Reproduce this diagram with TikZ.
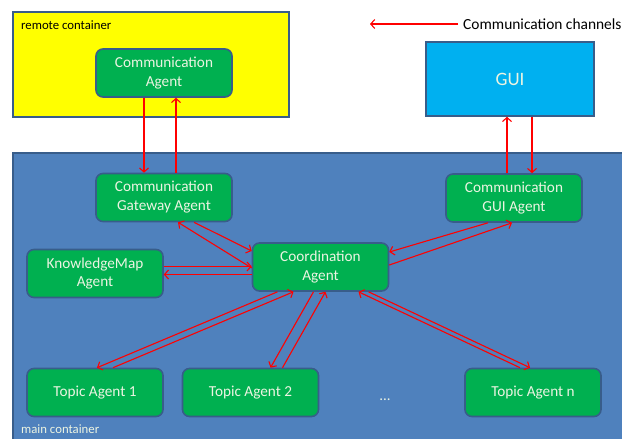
\documentclass[tikz,border=0pt]{standalone}
\usepackage{fontspec}
\setmainfont{Carlito}
\usetikzlibrary{arrows.meta}

\definecolor{agentgreen}{HTML}{00B050}
\definecolor{rimblue}{HTML}{385D8A}
\definecolor{maincont}{HTML}{4F81BD}
\definecolor{remotecont}{HTML}{FFFF00}
\definecolor{guicyan}{HTML}{00B0F0}
\definecolor{agenttext}{RGB}{236,244,226}

\begin{document}
\begin{tikzpicture}[x=1bp,y=-1bp,
  agent/.style={draw=rimblue,line width=1.6bp,rounded corners=7bp,fill=agentgreen,
    text=agenttext,align=center,minimum width=136bp,minimum height=48bp,inner sep=1bp,
    font=\fontsize{15.3}{19}\selectfont},
  chan/.style={draw=red,line width=1.1bp,-{Straight Barb[length=4bp,width=9bp]}},
  contlabel/.style={anchor=west,inner sep=0pt,font=\fontsize{12.8}{14}\selectfont}]
\useasboundingbox (0,0) rectangle (622,439);
% containers
\draw[rimblue,line width=1.6bp,fill=remotecont] (13,12) rectangle (289,117);
\draw[rimblue,line width=1.6bp,fill=maincont] (13,153) rectangle (630,445);
\node[contlabel] (remlbl) at (21,25) {remote container};
\node[contlabel,text=agenttext] (mainlbl) at (21,429) {main container};
% legend
\node[anchor=west,inner sep=0pt,font=\fontsize{15.5}{19}\selectfont] (legend) at (463,24) {Communication channels};
\coordinate (legtip) at (370,24);
% agents
\node[agent] (comm) at (164,73) {Communication\\Agent};
\node[agent] (gate) at (164,197.5) {Communication\\Gateway Agent};
\node[agent] (km) at (95,273.5) {KnowledgeMap\\Agent};
\node[agent] (coord) at (320.5,267) {Coordination\\Agent};
\node[agent] (cgui) at (514,198) {Communication\\GUI Agent};
\node[agent] (t1) at (95,392.5) {Topic Agent 1};
\node[agent] (t2) at (250.5,392.5) {Topic Agent 2};
\node[agent] (tn) at (533,392.5) {Topic Agent n};
\node[text=agenttext,font=\fontsize{15}{19}\selectfont] (dots) at (385,400) {...};
\node[draw=rimblue,line width=1.6bp,fill=guicyan,text=agenttext,minimum width=168bp,
  minimum height=74bp,font=\fontsize{19}{23}\selectfont] (gui) at (510,79) {GUI};
% channels
\draw[chan] ([xshift=-5bp]legend.west) -- (legtip);
\draw[chan] ([xshift=-20bp]comm.south) -- ([xshift=-20bp]gate.north);
\draw[chan] ([xshift=12bp]gate.north) -- ([xshift=12bp]comm.south);
\draw[chan] ([xshift=-3bp]gui.south |- cgui.north) -- ([xshift=-3bp]gui.south);
\draw[chan] ([xshift=22bp]gui.south) -- ([xshift=22bp]gui.south |- cgui.north);
\draw[chan] ([xshift=30bp]gate.south) -- ([yshift=16bp]coord.west);
\draw[chan] ([yshift=-1bp]coord.west) -- ([xshift=14bp]gate.south);
\draw[chan] ([yshift=7bp]km.east) -- ([yshift=7bp]km.east -| coord.west);
\draw[chan] ([yshift=-1bp]km.east -| coord.west) -- ([yshift=-1bp]km.east);
\draw[chan] ([xshift=-26bp]cgui.south) -- ([yshift=15bp]coord.east);
\draw[chan] ([yshift=2bp]coord.east) -- ([xshift=-2bp]cgui.south);
\draw[chan] ([xshift=-43bp]coord.south) -- ([xshift=2bp]t1.north);
\draw[chan] ([xshift=18bp]t1.north) -- ([xshift=-27bp]coord.south);
\draw[chan] ([xshift=-7bp]coord.south) -- ([xshift=20bp]t2.north);
\draw[chan] ([xshift=32bp]t2.north) -- ([xshift=5bp]coord.south);
\draw[chan] ([xshift=48bp]coord.south) -- ([xshift=-3bp]tn.north);
\draw[chan] ([xshift=-13bp]tn.north) -- ([xshift=38bp]coord.south);
\end{tikzpicture}
\end{document}
